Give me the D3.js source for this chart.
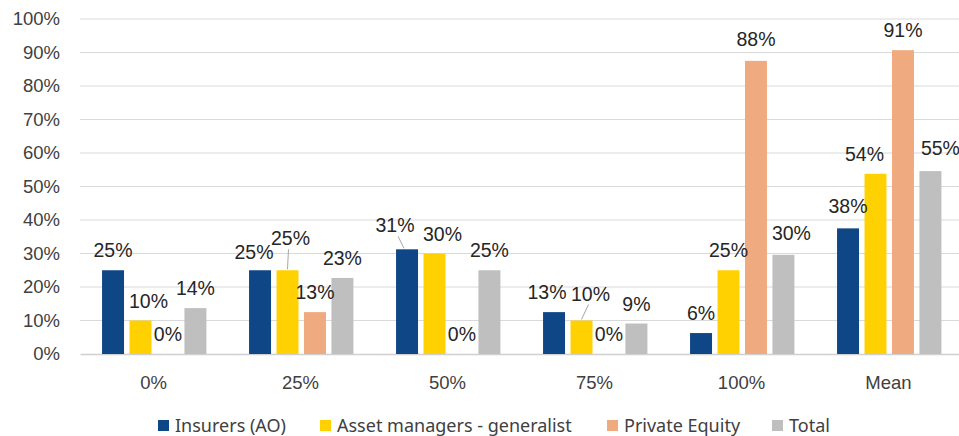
<!DOCTYPE html>
<html>
<head>
<meta charset="utf-8">
<script src="https://cdn.jsdelivr.net/npm/d3@7"></script>
<style>
  body { margin: 0; background: #fff; }
  .tick text { font-family: "Liberation Sans", Arial, sans-serif; font-size: 18.5px; fill: #404040; }
  .label { font-family: "Liberation Sans", Arial, sans-serif; font-size: 19.5px; fill: #262626; }
  .legend text { font-family: "Noto Sans", sans-serif; font-size: 18px; fill: #404040; }
</style>
</head>
<body>
<div id="chart"></div>
<script>
const svgWidth = 959;
const svgHeight = 436;
const margin = {top: 19, right: -3, bottom: 82, left: 80};
const width = svgWidth - margin.left - margin.right;
const height = svgHeight - margin.top - margin.bottom;

// data
const categories = ["0%", "25%", "50%", "75%", "100%", "Mean"];
const seriesNames = ["Insurers (AO)", "Asset managers - generalist", "Private Equity", "Total"];
const insurers = [25, 25, 31.25, 12.5, 6.25, 37.5];
const assetManagers = [10, 25, 30, 10, 25, 53.8];
const privateEquity = [0, 12.5, 0, 0, 87.5, 90.7];
const total = [13.7, 22.7, 25, 9.1, 29.6, 54.6];
const yTicks = [0, 10, 20, 30, 40, 50, 60, 70, 80, 90, 100];

const colors = ["#0e4686", "#ffd100", "#f0aa80", "#bfbfbf"];
// label nudges [dx, dy, leaderline] per category, per series
const nudges = [
  [[0,0],[8,0],[0,0],[0,0]],
  [[-6,2],[3,-12,1],[0,0],[0,0]],
  [[-12,-4,1],[8,0],[0,0],[0,0]],
  [[-7,0],[9,-7,1],[0,0],[0,0]],
  [[0,0],[0,0],[0,-2],[8,-2]],
  [[0,-2],[-11,0],[0,0],[10,-3]]
];

const series = [insurers, assetManagers, privateEquity, total];

const svg = d3.select("#chart")
  .append("svg")
  .attr("width", svgWidth)
  .attr("height", svgHeight)
  .append("g")
  .attr("transform", "translate(" + margin.left + "," + margin.top + ")");

const x0 = d3.scaleBand().domain(categories).range([0, width]).paddingInner(0).paddingOuter(0);
const x1 = d3.scaleBand().domain(d3.range(4)).range([x0.bandwidth()*0.15, x0.bandwidth()*0.86]).paddingInner(0.2).paddingOuter(0);
const y = d3.scaleLinear().domain([0, 100]).range([height, 0]);

// gridlines
svg.append("g")
  .selectAll("line")
  .data(yTicks.slice(1))
  .join("line")
  .attr("x1", 0).attr("x2", width)
  .attr("y1", d => y(d)).attr("y2", d => y(d))
  .attr("stroke", "#d9d9d9").attr("stroke-width", 1);

const yaxis = svg.append("g")
  .call(d3.axisLeft(y).tickValues(yTicks).tickFormat(d => d + "%").tickSize(0).tickPadding(20));
yaxis.select(".domain").remove();

const xaxis = svg.append("g")
  .attr("transform", "translate(0," + height + ")")
  .call(d3.axisBottom(x0).tickSize(0).tickPadding(22));
xaxis.select(".domain").attr("stroke", "#d0d0d0").attr("stroke-width", 1.5);

// bars
const groups = svg.append("g").selectAll("g")
  .data(categories)
  .join("g")
  .attr("transform", d => "translate(" + x0(d) + ",0)");

groups.selectAll("rect")
  .data((c, i) => series.map((s, k) => ({k: k, v: s[i]})))
  .join("rect")
  .attr("x", d => x1(d.k))
  .attr("width", x1.bandwidth())
  .attr("y", d => y(d.v))
  .attr("height", d => height - y(d.v))
  .attr("fill", d => colors[d.k]);

// labels
groups.each(function(c, i) {
  const g = d3.select(this);
  series.forEach(function(s, k) {
    const n = nudges[i][k];
    const cx = x1(k) + x1.bandwidth()/2;
    const top = y(s[i]);
    const lx = cx + n[0];
    const ly = top - 20 + n[1];
    if (n[2]) {
      g.append("line")
        .attr("x1", cx + (n[0] < 0 ? -3 : 0)).attr("y1", top - 1)
        .attr("x2", lx + (n[0] < 0 ? 3 : -2)).attr("y2", ly + 11)
        .attr("stroke", "#a6a6a6").attr("stroke-width", 1);
    }
    g.append("text")
      .attr("class", "label")
      .attr("x", lx)
      .attr("y", ly + 7)
      .attr("text-anchor", "middle")
      .text(Math.round(s[i]) + "%");
  });
});

// legend
const legendX = [158, 320, 607, 772];
const legend = d3.select("svg").append("g").attr("class", "legend");
seriesNames.forEach(function(name, k) {
  legend.append("rect")
    .attr("x", legendX[k]).attr("y", 420)
    .attr("width", 11).attr("height", 11)
    .attr("fill", colors[k]);
  legend.append("text")
    .attr("x", legendX[k] + 17).attr("y", 432)
    .text(name);
});
</script>
</body>
</html>
